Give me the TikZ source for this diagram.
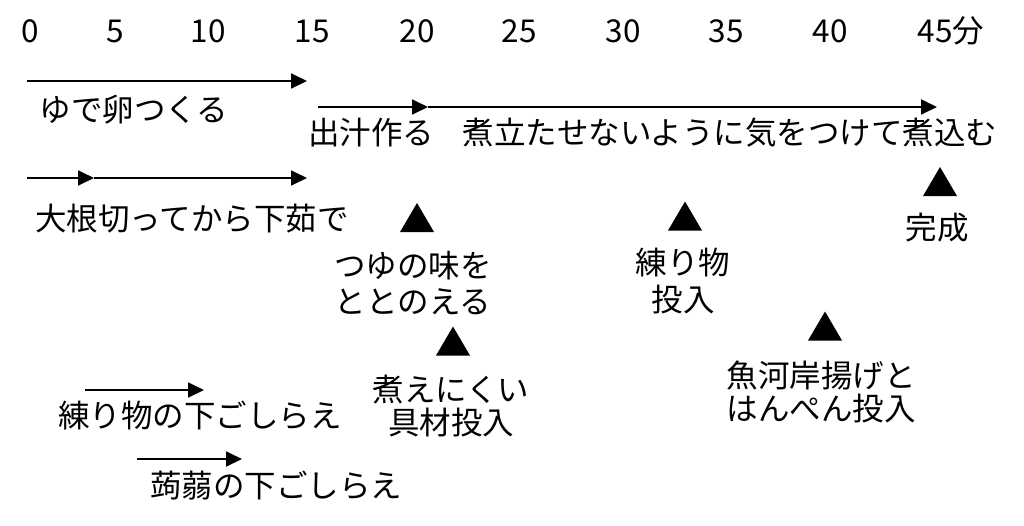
\documentclass[tikz,border=0pt]{standalone}
\usepackage{fontspec}
\setmainfont{Noto Sans CJK JP}
\usetikzlibrary{arrows.meta}
\begin{document}
\begin{tikzpicture}[x=1pt,y=-1pt,
  lbl/.style={inner sep=0pt, text height=24.5pt, text depth=0.5pt, align=center,
    font=\fontsize{31.5}{34}\selectfont},
  arr/.style={line width=1.8pt, -{Triangle[length=16pt,width=15pt]}},
  tri/.pic={\fill (-17,14.5) -- (17,14.5) -- (0,-14.5) -- cycle;}]
\useasboundingbox (0,0) rectangle (1024,525);
% time scale
\node[lbl] (t0) at (30,30) {0};
\node[lbl] (t5) at (115,30) {5};
\node[lbl] (t10) at (208,30) {10};
\node[lbl] (t15) at (312,30) {15};
\node[lbl] (t20) at (417,30) {20};
\node[lbl] (t25) at (519,30) {25};
\node[lbl] (t30) at (623,30) {30};
\node[lbl] (t35) at (726,30) {35};
\node[lbl] (t40) at (830,30) {40};
\node[lbl] (t45) at (951,30) {45分};
% arrows
\coordinate (a1s) at (27,81);  \coordinate (a1e) at (307,81);
\coordinate (a2s) at (318,107); \coordinate (a2m) at (428,107); \coordinate (a2e) at (937,107);
\coordinate (a3s) at (27,178); \coordinate (a3m) at (94,178); \coordinate (a3e) at (307,178);
\coordinate (a4s) at (85,390); \coordinate (a4e) at (204,390);
\coordinate (a5s) at (137,459); \coordinate (a5e) at (242,459);
\draw[arr] (a1s) -- (a1e);
\draw[arr] (a2s) -- (a2m);
\draw[arr] (a2m) -- (a2e);
\draw[arr] (a3s) -- (a3m);
\draw[arr] (a3m) -- (a3e);
\draw[arr] (a4s) -- (a4e);
\draw[arr] (a5s) -- (a5e);
% labels
\node[lbl] (l1) at (134,109) {ゆで卵つくる};
\node[lbl] (l2) at (371,132) {出汁作る};
\node[lbl] (l3) at (730,132) {煮立たせないように気をつけて煮込む};
\node[lbl] (l4) at (192,218) {大根切ってから下茹で};
\node[lbl] (l5) at (200,415) {練り物の下ごしらえ};
\node[lbl] (l6) at (276,485) {蒟蒻の下ごしらえ};
% markers
\pic at (417,217.5) {tri};
\pic at (453,341) {tri};
\pic at (685,216) {tri};
\pic at (825,326) {tri};
\pic at (940,181.5) {tri};
% marker labels (placed by the centre of their last line)
\node[lbl, font=\fontsize{31.5}{36}\selectfont] (m1) at (413,301) {つゆの味を\\ととのえる};
\node[lbl, font=\fontsize{31.5}{33}\selectfont] (m2) at (451,422) {煮えにくい\\具材投入};
\node[lbl, font=\fontsize{31.5}{37}\selectfont] (m3) at (683,299) {練り物\\投入};
\node[lbl, font=\fontsize{31.5}{33}\selectfont] (m4) at (821,408) {魚河岸揚げと\\はんぺん投入};
\node[lbl] (m5) at (937,227) {完成};
\end{tikzpicture}
\end{document}
